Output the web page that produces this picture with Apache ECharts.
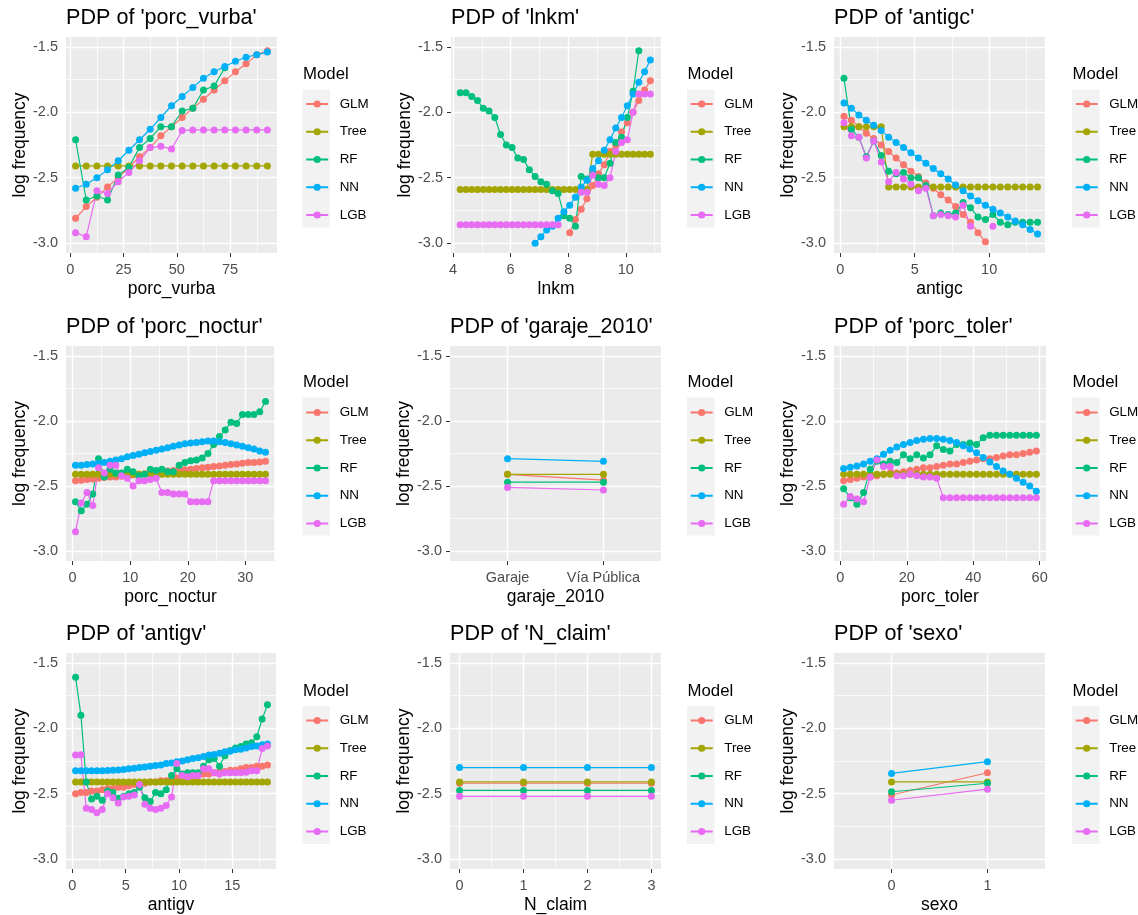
<!DOCTYPE html>
<html>
<head>
<meta charset="utf-8">
<title>PDP by model</title>
<script src="https://cdn.jsdelivr.net/npm/echarts@6/dist/echarts.min.js"></script>
<style>
  html, body { margin: 0; padding: 0; background: #ffffff; }
  #container { width: 1138px; height: 915px; }
</style>
</head>
<body>
<div id="container"></div>
<script>
var dom = document.getElementById('container');
var myChart = echarts.init(dom, null, { renderer: 'canvas' });

var models = ['GLM', 'Tree', 'RF', 'NN', 'LGB'];
var colors = ['#F8766D', '#A3A500', '#00BF7D', '#00B0F6', '#E76BF3'];

// shared y scale (log frequency)
var yTicks = [-3, -2.5, -2, -1.5];
var yMinor = [-2.75, -2.25, -1.75];

// porc_vurba
var vurbaX = [2.5, 7.5, 12.5, 17.5, 22.5, 27.5, 32.5, 37.5, 42.5, 47.5, 52.5, 57.5, 62.5, 67.5, 72.5, 77.5, 82.5, 87.5, 92.5];
var vurbaGLM = [-2.81, -2.72, -2.65, -2.57, -2.50, -2.42, -2.34, -2.27, -2.18, -2.11, -2.04, -1.97, -1.90, -1.83, -1.76, -1.69, -1.63, -1.56, -1.53];
var vurbaTree = [-2.41, -2.41, -2.41, -2.41, -2.41, -2.41, -2.41, -2.41, -2.41, -2.41, -2.41, -2.41, -2.41, -2.41, -2.41, -2.41, -2.41, -2.41, -2.41];
var vurbaRF = [-2.21, -2.67, -2.64, -2.67, -2.48, -2.42, -2.27, -2.20, -2.11, -2.11, -1.99, -1.97, -1.83, -1.80, -1.66, null, null, null, null];
var vurbaNN = [-2.58, -2.55, -2.50, -2.44, -2.37, -2.29, -2.21, -2.13, -2.04, -1.95, -1.88, -1.81, -1.74, -1.69, -1.65, -1.61, -1.58, -1.56, -1.54];
var vurbaLGB = [-2.92, -2.95, -2.60, -2.62, -2.53, -2.46, -2.37, -2.27, -2.26, -2.28, -2.14, -2.135, -2.135, -2.135, -2.135, -2.135, -2.135, -2.135, -2.135];
var vurbaTicks = [0, 25, 50, 75];
var vurbaMinor = [12.5, 37.5, 62.5, 87.5];

// lnkm
var lnkmX = [4.25, 4.45, 4.65, 4.85, 5.05, 5.25, 5.45, 5.65, 5.85, 6.05, 6.25, 6.45, 6.65, 6.85, 7.05, 7.25, 7.45, 7.65, 7.85, 8.05, 8.25, 8.45, 8.65, 8.85, 9.05, 9.25, 9.45, 9.65, 9.85, 10.05, 10.25, 10.45, 10.65, 10.85];
var lnkmGLM = [null, null, null, null, null, null, null, null, null, null, null, null, null, null, null, null, null, null, null, -2.92, -2.82, -2.74, -2.66, -2.56, -2.47, -2.40, -2.30, -2.25, -2.15, -2.08, -2.00, -1.91, -1.83, -1.76];
var lnkmTree = [-2.59, -2.59, -2.59, -2.59, -2.59, -2.59, -2.59, -2.59, -2.59, -2.59, -2.59, -2.59, -2.59, -2.59, -2.59, -2.59, -2.59, -2.59, -2.59, -2.59, -2.59, -2.59, -2.59, -2.32, -2.32, -2.32, -2.32, -2.32, -2.32, -2.32, -2.32, -2.32, -2.32, -2.32];
var lnkmRF = [-1.85, -1.85, -1.88, -1.91, -1.97, -1.99, -2.04, -2.17, -2.25, -2.27, -2.35, -2.36, -2.44, -2.49, -2.53, -2.55, -2.60, -2.62, -2.79, -2.81, -2.87, -2.49, -2.51, -2.46, -2.50, -2.50, -2.39, -2.23, -2.19, -2.04, -1.84, -1.53, null, null];
var lnkmNN = [null, null, null, null, null, null, null, null, null, null, null, null, null, -3.00, -2.95, -2.90, -2.87, -2.81, -2.76, -2.71, -2.65, -2.57, -2.52, -2.43, -2.37, -2.29, -2.21, -2.12, -2.04, -1.95, -1.86, -1.77, -1.69, -1.60];
var lnkmLGB = [-2.86, -2.86, -2.86, -2.86, -2.86, -2.86, -2.86, -2.86, -2.86, -2.86, -2.86, -2.86, -2.86, -2.86, -2.86, -2.86, -2.86, -2.86, null, null, null, -2.61, -2.61, -2.48, -2.55, -2.56, -2.50, -2.30, -2.23, -2.21, -2.00, -1.86, -1.86, -1.86];
var lnkmTicks = [4, 6, 8, 10];
var lnkmMinor = [5, 7, 9, 11];

// antigc
var antigcX = [0.25, 0.75, 1.25, 1.75, 2.25, 2.75, 3.25, 3.75, 4.25, 4.75, 5.25, 5.75, 6.25, 6.75, 7.25, 7.75, 8.25, 8.75, 9.25, 9.75, 10.25, 10.75, 11.25, 11.75, 12.25, 12.75, 13.25];
var antigcGLM = [-2.03, -2.06, -2.11, -2.16, -2.20, -2.25, -2.30, -2.35, -2.40, -2.45, -2.49, -2.54, -2.58, -2.63, -2.67, -2.72, -2.78, -2.84, -2.92, -2.99, null, null, null, null, null, null, null];
var antigcTree = [-2.11, -2.11, -2.11, -2.11, -2.11, -2.11, -2.57, -2.57, -2.57, -2.57, -2.57, -2.57, -2.57, -2.57, -2.57, -2.57, -2.57, -2.57, -2.57, -2.57, -2.57, -2.57, -2.57, -2.57, -2.57, -2.57, -2.57];
var antigcRF = [-1.74, -2.13, -2.19, -2.34, -2.22, -2.33, -2.45, -2.47, -2.46, -2.50, -2.50, -2.56, -2.79, -2.77, -2.78, -2.77, -2.69, -2.73, -2.80, -2.82, -2.78, -2.84, -2.86, -2.84, -2.84, -2.84, -2.84];
var antigcNN = [-1.93, -1.97, -2.02, -2.06, -2.10, -2.14, -2.19, -2.23, -2.27, -2.31, -2.35, -2.39, -2.43, -2.47, -2.51, -2.555, -2.60, -2.64, -2.675, -2.71, -2.74, -2.77, -2.80, -2.83, -2.86, -2.895, -2.93];
var antigcLGB = [-2.08, -2.18, -2.19, -2.35, -2.22, -2.38, -2.53, -2.46, -2.51, -2.55, -2.60, -2.58, -2.79, -2.78, -2.79, -2.80, -2.71, -2.87, null, null, -2.87, null, null, null, null, null, null];
var antigcTicks = [0, 5, 10];
var antigcMinor = [2.5, 7.5, 12.5];

// porc_noctur
var nocturX = [0.5, 1.5, 2.5, 3.5, 4.5, 5.5, 6.5, 7.5, 8.5, 9.5, 10.5, 11.5, 12.5, 13.5, 14.5, 15.5, 16.5, 17.5, 18.5, 19.5, 20.5, 21.5, 22.5, 23.5, 24.5, 25.5, 26.5, 27.5, 28.5, 29.5, 30.5, 31.5, 32.5, 33.5];
var nocturGLM = [-2.46, -2.455, -2.45, -2.445, -2.44, -2.435, -2.43, -2.43, -2.425, -2.42, -2.415, -2.41, -2.405, -2.40, -2.395, -2.39, -2.385, -2.38, -2.38, -2.375, -2.37, -2.365, -2.36, -2.355, -2.35, -2.345, -2.34, -2.335, -2.33, -2.325, -2.32, -2.32, -2.315, -2.31];
var nocturTree = [-2.41, -2.41, -2.41, -2.41, -2.41, -2.41, -2.41, -2.41, -2.41, -2.41, -2.41, -2.41, -2.41, -2.41, -2.41, -2.41, -2.41, -2.41, -2.41, -2.41, -2.41, -2.41, -2.41, -2.41, -2.41, -2.41, -2.41, -2.41, -2.41, -2.41, -2.41, -2.41, -2.41, -2.41];
var nocturRF = [-2.62, -2.69, -2.64, -2.56, -2.29, -2.43, -2.37, -2.40, -2.40, -2.37, -2.39, -2.42, -2.41, -2.37, -2.38, -2.37, -2.39, -2.39, -2.34, -2.32, -2.305, -2.30, -2.285, -2.25, -2.18, -2.12, -2.07, -2.01, -2.02, -1.95, -1.95, -1.95, -1.93, -1.85];
var nocturNN = [-2.34, -2.34, -2.335, -2.33, -2.325, -2.32, -2.31, -2.30, -2.29, -2.275, -2.265, -2.255, -2.245, -2.235, -2.225, -2.215, -2.205, -2.195, -2.185, -2.175, -2.17, -2.165, -2.16, -2.155, -2.155, -2.16, -2.165, -2.175, -2.185, -2.195, -2.205, -2.215, -2.23, -2.24];
var nocturLGB = [-2.85, -2.63, -2.55, -2.65, -2.36, -2.40, -2.34, -2.34, -2.42, -2.44, -2.50, -2.46, -2.46, -2.45, -2.44, -2.55, -2.55, -2.56, -2.56, -2.56, -2.62, -2.62, -2.62, -2.62, -2.46, -2.46, -2.46, -2.46, -2.46, -2.46, -2.46, -2.46, -2.46, -2.46];
var nocturTicks = [0, 10, 20, 30];
var nocturMinor = [5, 15, 25, 35];

// garaje_2010 (discrete)
var garajeLevels = ['Garaje', 'Vía Pública'];
var garajeX = [1, 2];
var garajeGLM = [-2.41, -2.455];
var garajeTree = [-2.41, -2.41];
var garajeRF = [-2.47, -2.47];
var garajeNN = [-2.29, -2.31];
var garajeLGB = [-2.51, -2.53];

// porc_toler
var tolerX = [1, 3, 5, 7, 9, 11, 13, 15, 17, 19, 21, 23, 25, 27, 29, 31, 33, 35, 37, 39, 41, 43, 45, 47, 49, 51, 53, 55, 57, 59];
var tolerGLM = [-2.46, -2.45, -2.44, -2.43, -2.43, -2.42, -2.41, -2.40, -2.40, -2.39, -2.38, -2.37, -2.36, -2.36, -2.35, -2.34, -2.33, -2.33, -2.32, -2.31, -2.30, -2.29, -2.29, -2.28, -2.27, -2.26, -2.26, -2.25, -2.24, -2.23];
var tolerTree = [-2.41, -2.41, -2.41, -2.41, -2.41, -2.41, -2.41, -2.41, -2.41, -2.41, -2.41, -2.41, -2.41, -2.41, -2.41, -2.41, -2.41, -2.41, -2.41, -2.41, -2.41, -2.41, -2.41, -2.41, -2.41, -2.41, -2.41, -2.41, -2.41, -2.41];
var tolerRF = [-2.52, -2.59, -2.64, -2.55, -2.37, -2.31, -2.33, -2.31, -2.32, -2.26, -2.29, -2.26, -2.285, -2.26, -2.19, -2.22, -2.23, -2.18, -2.18, -2.17, -2.18, -2.13, -2.11, -2.11, -2.11, -2.11, -2.11, -2.11, -2.11, -2.11];
var tolerNN = [-2.366, -2.356, -2.345, -2.33, -2.31, -2.29, -2.255, -2.225, -2.20, -2.18, -2.165, -2.15, -2.14, -2.135, -2.135, -2.14, -2.15, -2.165, -2.19, -2.215, -2.245, -2.28, -2.315, -2.35, -2.385, -2.41, -2.44, -2.47, -2.50, -2.54];
var tolerLGB = [-2.64, -2.58, -2.60, -2.62, -2.43, -2.30, -2.35, -2.35, -2.42, -2.42, -2.41, -2.42, -2.43, -2.43, -2.44, -2.59, -2.59, -2.59, -2.59, -2.59, -2.59, -2.59, -2.59, -2.59, -2.59, -2.59, -2.59, -2.59, -2.59, -2.59];
var tolerTicks = [0, 20, 40, 60];
var tolerMinor = [10, 30, 50];

// antigv
var antigvX = [0.3, 0.8, 1.3, 1.8, 2.3, 2.8, 3.3, 3.8, 4.3, 4.8, 5.3, 5.8, 6.3, 6.8, 7.3, 7.8, 8.3, 8.8, 9.3, 9.8, 10.3, 10.8, 11.3, 11.8, 12.3, 12.8, 13.3, 13.8, 14.3, 14.8, 15.3, 15.8, 16.3, 16.8, 17.3, 17.8, 18.3];
var antigvGLM = [-2.50, -2.49, -2.49, -2.48, -2.48, -2.47, -2.46, -2.46, -2.45, -2.45, -2.44, -2.43, -2.43, -2.42, -2.41, -2.41, -2.40, -2.40, -2.39, -2.38, -2.38, -2.37, -2.37, -2.36, -2.35, -2.35, -2.34, -2.33, -2.33, -2.32, -2.32, -2.31, -2.30, -2.30, -2.29, -2.29, -2.28];
var antigvTree = [-2.41, -2.41, -2.41, -2.41, -2.41, -2.41, -2.41, -2.41, -2.41, -2.41, -2.41, -2.41, -2.41, -2.41, -2.41, -2.41, -2.41, -2.41, -2.41, -2.41, -2.41, -2.41, -2.41, -2.41, -2.41, -2.41, -2.41, -2.41, -2.41, -2.41, -2.41, -2.41, -2.41, -2.41, -2.41, -2.41, -2.41];
var antigvRF = [-1.61, -1.90, -2.41, -2.54, -2.52, -2.55, -2.48, -2.49, -2.535, -2.52, -2.50, -2.49, -2.45, -2.53, -2.56, -2.49, -2.50, -2.47, -2.36, -2.31, -2.35, -2.34, -2.34, -2.34, -2.29, -2.24, -2.23, -2.29, -2.21, -2.17, -2.15, -2.14, -2.12, -2.11, -2.065, -1.93, -1.82];
var antigvNN = [-2.325, -2.325, -2.325, -2.325, -2.325, -2.325, -2.322, -2.32, -2.318, -2.315, -2.31, -2.305, -2.30, -2.295, -2.29, -2.285, -2.28, -2.27, -2.265, -2.255, -2.25, -2.24, -2.23, -2.225, -2.215, -2.205, -2.20, -2.19, -2.18, -2.175, -2.165, -2.16, -2.15, -2.14, -2.135, -2.125, -2.12];
var antigvLGB = [-2.205, -2.203, -2.61, -2.62, -2.645, -2.62, -2.50, -2.53, -2.57, -2.525, -2.52, -2.51, -2.43, -2.58, -2.61, -2.62, -2.61, -2.59, -2.525, -2.27, -2.36, -2.37, -2.36, -2.36, -2.31, -2.31, -2.34, -2.35, -2.34, -2.34, -2.34, -2.34, -2.335, -2.325, -2.325, -2.155, -2.135];
var antigvTicks = [0, 5, 10, 15];
var antigvMinor = [2.5, 7.5, 12.5, 17.5];

// N_claim
var nclaimX = [0, 1, 2, 3];
var nclaimGLM = [-2.42, -2.42, -2.42, -2.42];
var nclaimTree = [-2.41, -2.41, -2.41, -2.41];
var nclaimRF = [-2.475, -2.475, -2.475, -2.475];
var nclaimNN = [-2.30, -2.30, -2.30, -2.30];
var nclaimLGB = [-2.52, -2.52, -2.52, -2.52];
var nclaimTicks = [0, 1, 2, 3];
var nclaimMinor = [0.5, 1.5, 2.5];

// sexo (discrete)
var sexoX = [0, 1];
var sexoGLM = [-2.51, -2.34];
var sexoTree = [-2.41, -2.41];
var sexoRF = [-2.485, -2.42];
var sexoNN = [-2.345, -2.255];
var sexoLGB = [-2.55, -2.465];

var panels = [
    { v: 'porc_vurba', x: vurbaX, ys: [vurbaGLM, vurbaTree, vurbaRF, vurbaNN, vurbaLGB], lim: [-2, 97], ticks: vurbaTicks, minor: vurbaMinor },
    { v: 'lnkm', x: lnkmX, ys: [lnkmGLM, lnkmTree, lnkmRF, lnkmNN, lnkmLGB], lim: [3.93, 11.22], ticks: lnkmTicks, minor: lnkmMinor },
    { v: 'antigc', x: antigcX, ys: [antigcGLM, antigcTree, antigcRF, antigcNN, antigcLGB], lim: [-0.42, 13.75], ticks: antigcTicks, minor: antigcMinor },
    { v: 'porc_noctur', x: nocturX, ys: [nocturGLM, nocturTree, nocturRF, nocturNN, nocturLGB], lim: [-1.15, 35.15], ticks: nocturTicks, minor: nocturMinor },
    { v: 'garaje_2010', x: garajeX, ys: [garajeGLM, garajeTree, garajeRF, garajeNN, garajeLGB], lim: [0.4, 2.6], ticks: garajeX, minor: [], fmt: function (val) { return garajeLevels[val - 1]; } },
    { v: 'porc_toler', x: tolerX, ys: [tolerGLM, tolerTree, tolerRF, tolerNN, tolerLGB], lim: [-1.9, 61.9], ticks: tolerTicks, minor: tolerMinor },
    { v: 'antigv', x: antigvX, ys: [antigvGLM, antigvTree, antigvRF, antigvNN, antigvLGB], lim: [-0.6, 19.1], ticks: antigvTicks, minor: antigvMinor },
    { v: 'N_claim', x: nclaimX, ys: [nclaimGLM, nclaimTree, nclaimRF, nclaimNN, nclaimLGB], lim: [-0.15, 3.15], ticks: nclaimTicks, minor: nclaimMinor },
    { v: 'sexo', x: sexoX, ys: [sexoGLM, sexoTree, sexoRF, sexoNN, sexoLGB], lim: [-0.6, 1.6], ticks: sexoX, minor: [] }
];

// layout: [left, top, width, height] of each panel
var gridBox = [
    [66, 37, 211, 216], [451, 37, 210, 216], [834, 37, 211, 216],
    [66, 346, 209, 215], [450, 346, 211, 215], [834, 346, 212, 215],
    [66, 653, 210, 216], [450, 653, 211, 216], [834, 653, 211, 216]
];
var keyLeft = [302.5, 687, 1072];
var titleTop = [7, 316, 623];
var modelTop = [66, 374, 683];
var keyTop = [89.5, 397.5, 706];
var legendTop = [97, 405.5, 713.5];

var fontFam = "'Liberation Sans', Arial, sans-serif";
var majorStyle = { color: '#ffffff', width: 1.4, type: 'solid' };
var minorStyle = { color: '#ffffff', width: 0.7, type: 'solid' };

var grids = [], xAxes = [], yAxes = [], series = [], titles = [], legends = [], graphics = [];

panels.forEach(function (p, i) {
    var b = gridBox[i];
    var row = Math.floor(i / 3), col = i % 3;
    grids.push({ left: b[0], top: b[1], width: b[2], height: b[3], show: true, backgroundColor: '#EBEBEB', borderWidth: 0 });
    xAxes.push({
        type: 'value', gridIndex: i, min: p.lim[0], max: p.lim[1],
        name: p.v, nameLocation: 'middle', nameGap: 27,
        nameTextStyle: { fontSize: 17.5, color: '#000000', fontFamily: fontFam },
        axisLine: { show: false },
        axisTick: { show: true, customValues: p.ticks, length: 4, lineStyle: { color: '#333333', width: 1 } },
        axisLabel: { customValues: p.ticks, formatter: p.fmt, color: '#4D4D4D', fontSize: 14.5, margin: 9, fontFamily: fontFam },
        splitLine: { show: false }
    });
    yAxes.push({
        type: 'value', gridIndex: i, min: -3.075, max: -1.425,
        name: 'log frequency', nameLocation: 'middle', nameGap: 37, nameRotate: 90,
        nameTextStyle: { fontSize: 17.5, color: '#000000', fontFamily: fontFam },
        axisLine: { show: false },
        axisTick: { show: true, customValues: yTicks, length: 4, lineStyle: { color: '#333333', width: 1 } },
        axisLabel: { customValues: yTicks, formatter: function (val) { return val.toFixed(1); }, color: '#4D4D4D', fontSize: 14.5, margin: 8, fontFamily: fontFam },
        splitLine: { show: false }
    });

    // panel grid lines
    var lines = [];
    yMinor.forEach(function (v) { lines.push({ yAxis: v, lineStyle: minorStyle }); });
    p.minor.forEach(function (v) { lines.push({ xAxis: v, lineStyle: minorStyle }); });
    yTicks.forEach(function (v) { lines.push({ yAxis: v, lineStyle: majorStyle }); });
    p.ticks.forEach(function (v) { lines.push({ xAxis: v, lineStyle: majorStyle }); });
    series.push({
        type: 'line', xAxisIndex: i, yAxisIndex: i, data: [], silent: true, z: 1,
        markLine: { silent: true, symbol: ['none', 'none'], label: { show: false }, animation: false, z: 1, precision: 3, data: lines }
    });

    p.ys.forEach(function (ys, m) {
        series.push({
            name: models[m], type: 'line', xAxisIndex: i, yAxisIndex: i, z: 3,
            data: p.x.map(function (x, j) { return ys[j] == null ? [x, '-'] : [x, ys[j]]; }),
            symbol: 'circle', symbolSize: 7, showSymbol: true, showAllSymbol: true,
            connectNulls: false,
            lineStyle: { width: 1.2, color: colors[m] },
            itemStyle: { color: colors[m] },
            emphasis: { disabled: true }
        });
    });

    titles.push({
        text: "PDP of '" + p.v + "'", left: b[0], top: titleTop[row], padding: 0,
        textStyle: { fontSize: 21.6, fontWeight: 'normal', color: '#000000', fontFamily: fontFam }
    });
    titles.push({
        text: 'Model', left: keyLeft[col] + 0.5, top: modelTop[row], padding: 0,
        textStyle: { fontSize: 16.8, fontWeight: 'normal', color: '#000000', fontFamily: fontFam }
    });
    legends.push({
        orient: 'vertical', left: keyLeft[col] + 2.7, top: legendTop[row], padding: 0,
        itemWidth: 22, itemHeight: 9, itemGap: 13.75, selectedMode: false,
        data: models,
        textStyle: { fontSize: 13.4, lineHeight: 14, color: '#000000', fontFamily: fontFam, padding: [0, 0, 0, 6.5] }
    });
    graphics.push({
        type: 'rect', z: 0, silent: true,
        shape: { x: keyLeft[col], y: keyTop[row], width: 27.5, height: 138 },
        style: { fill: '#F2F2F2' }
    });
});

var option = {
    backgroundColor: '#ffffff',
    animation: false,
    textStyle: { fontFamily: fontFam },
    title: titles,
    legend: legends,
    grid: grids,
    xAxis: xAxes,
    yAxis: yAxes,
    graphic: graphics,
    series: series
};

myChart.setOption(option);
window.addEventListener('resize', myChart.resize);
</script>
</body>
</html>
